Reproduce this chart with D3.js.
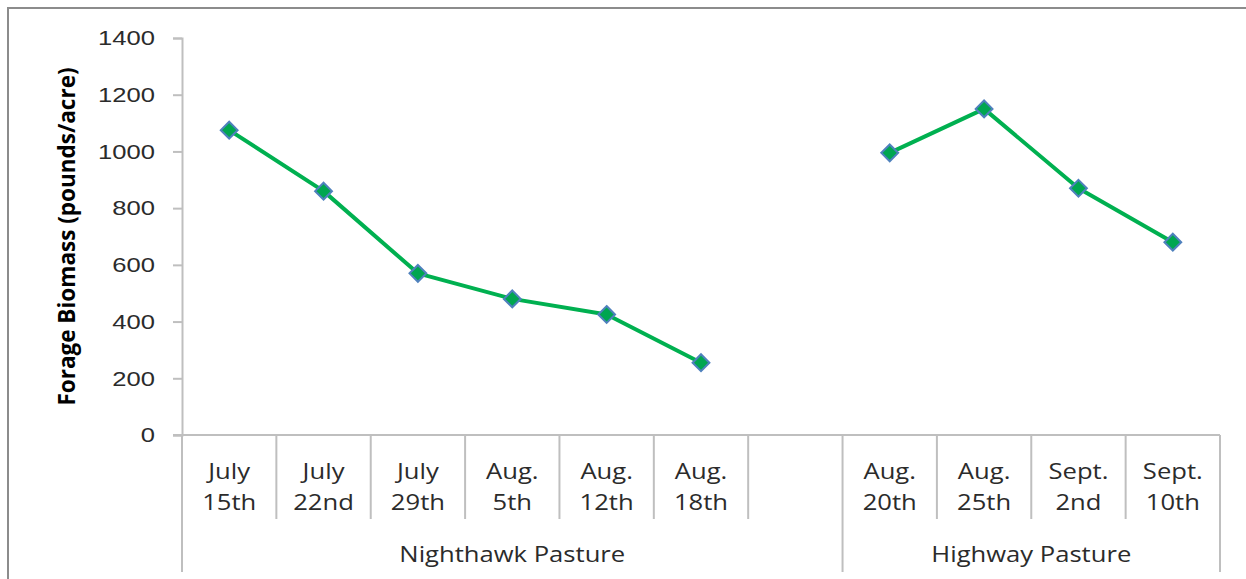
<!DOCTYPE html>
<html>
<head>
<meta charset="utf-8">
<script src="https://cdn.jsdelivr.net/npm/d3@7"></script>
<style>
  body { margin: 0; background: white; }
  svg { display: block; }
</style>
</head>
<body>
<svg id="chart"></svg>
<script>
// Data
var nighthawkDates = [["July", "15th"], ["July", "22nd"], ["July", "29th"], ["Aug.", "5th"], ["Aug.", "12th"], ["Aug.", "18th"]]
var nighthawkValues = [1075, 860, 570, 480, 425, 255]
var highwayDates = [["Aug.", "20th"], ["Aug.", "25th"], ["Sept.", "2nd"], ["Sept.", "10th"]]
var highwayValues = [995, 1150, 870, 680]
var groupNames = ["Nighthawk Pasture", "Highway Pasture"]
var yTicks = [0, 200, 400, 600, 800, 1000, 1200, 1400]

var dimensions = {
    width: 1246,
    height: 579,
    margin: { top: 38, left: 182, right: 26, bottom: 144 }
}

// the picture is a bit wider than tall, so text gets a horizontal stretch
var stretch = 1.22

var svg = d3.select("#chart")
    .attr("width", dimensions.width)
    .attr("height", dimensions.height)
    .style("font-family", "'Open Sans', sans-serif")

// outer frame
svg.append("rect")
    .attr("x", 8).attr("y", 8)
    .attr("width", dimensions.width)
    .attr("height", dimensions.height)
    .attr("fill", "none")
    .attr("stroke", "#8c8c8c")
    .attr("stroke-width", 2)

// slots: nighthawk, one empty gap, highway
var slots = nighthawkDates.map((d, i) => "n" + i)
    .concat(["gap"])
    .concat(highwayDates.map((d, i) => "h" + i))

var x = d3.scaleBand()
    .domain(slots)
    .range([dimensions.margin.left, dimensions.width - dimensions.margin.right])

var y = d3.scaleLinear()
    .domain([0, 1400])
    .range([dimensions.height - dimensions.margin.bottom, dimensions.margin.top])

var axisColor = "#bfbfbf"
var textColor = "#2b2b2b"
var y0 = y(0)

// y axis
var yAxis = svg.append("g")
    .attr("transform", `translate(${dimensions.margin.left},0)`)
    .call(d3.axisLeft(y).tickValues(yTicks).tickFormat(d3.format("d")).tickSize(9).tickPadding(0))
yAxis.selectAll("line").attr("stroke", axisColor).attr("stroke-width", 2)
yAxis.select(".domain").attr("stroke", axisColor).attr("stroke-width", 2)
yAxis.selectAll("text")
    .attr("x", null)
    .attr("transform", `translate(-27,0) scale(${stretch},1)`)
    .style("font-size", "21px")
    .attr("fill", textColor)

// x baseline
svg.append("line")
    .attr("x1", dimensions.margin.left - 9)
    .attr("x2", x.range()[1])
    .attr("y1", y0).attr("y2", y0)
    .attr("stroke", axisColor).attr("stroke-width", 2)

// separators between slots
var edges = slots.map(s => x(s)).concat([x.range()[1]])
var longEdges = [x("n0"), x("h0"), x.range()[1]]
edges.forEach(e => {
    var isLong = longEdges.some(l => Math.abs(l - e) < 0.5)
    svg.append("line")
        .attr("x1", e).attr("x2", e)
        .attr("y1", y0)
        .attr("y2", isLong ? 572 : 519)
        .attr("stroke", axisColor).attr("stroke-width", 2)
})

function label(px, py, txt) {
    return svg.append("text")
        .attr("transform", `translate(${px},${py}) scale(${stretch},1)`)
        .attr("text-anchor", "middle")
        .style("font-size", "21px")
        .attr("fill", textColor)
        .text(txt)
}

// category labels
function drawLabels(dates, prefix) {
    dates.forEach((d, i) => {
        var cx = x(prefix + i) + x.bandwidth() / 2
        label(cx, 479, d[0])
        label(cx, 510, d[1])
    })
}
drawLabels(nighthawkDates, "n")
drawLabels(highwayDates, "h")

// group labels
var groupCenters = [
    (x("n0") + x("h0")) / 2,
    (x("h0") + x.range()[1]) / 2
]
groupNames.forEach((g, i) => label(groupCenters[i], 562, g))

// y title
svg.append("text")
    .attr("transform", `translate(75,${(y(0) + y(1400)) / 2}) rotate(-90)`)
    .attr("text-anchor", "middle")
    .style("font-size", "22.5px")
    .style("font-weight", "bold")
    .attr("fill", "#000")
    .text("Forage Biomass (pounds/acre)")

// series
var lineGreen = "#00b050"
var line = d3.line().x(d => d.x).y(d => d.y)
var series = [
    nighthawkValues.map((v, i) => ({ x: x("n" + i) + x.bandwidth() / 2, y: y(v) })),
    highwayValues.map((v, i) => ({ x: x("h" + i) + x.bandwidth() / 2, y: y(v) }))
]

series.forEach(pts => {
    svg.append("path")
        .attr("d", line(pts))
        .attr("fill", "none")
        .attr("stroke", lineGreen)
        .attr("stroke-width", 4)
        .attr("stroke-linejoin", "round")

    svg.selectAll(null)
        .data(pts)
        .enter()
        .append("path")
        .attr("d", d3.symbol().type(d3.symbolDiamond2).size(180))
        .attr("transform", d => `translate(${d.x},${d.y})`)
        .attr("fill", "#00a650")
        .attr("stroke", "#4f81bd")
        .attr("stroke-width", 2)
})
</script>
</body>
</html>
